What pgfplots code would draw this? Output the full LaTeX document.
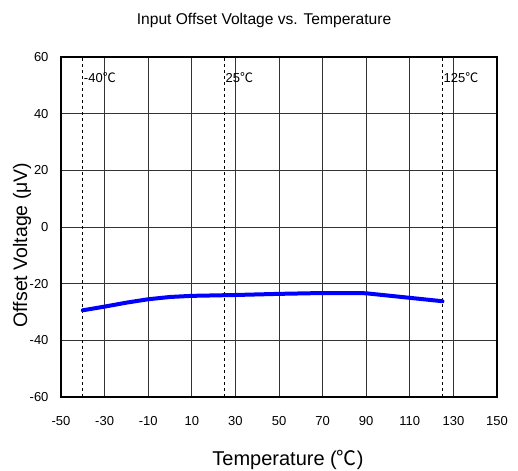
\documentclass[border=0pt]{standalone}
\usepackage{pgfplots}
\pgfplotsset{compat=1.18}
\usepackage{fontspec}
\setmainfont{Liberation Sans}
\newfontfamily\cjk{Noto Sans CJK SC}
\newcommand{\degC}{{\cjk ℃}}
\begin{document}
\begin{tikzpicture}
\begin{axis}[
  scale only axis,
  width=436pt, height=340pt,
  xmin=-50, xmax=150, ymin=-60, ymax=60,
  xtick={-50,-30,...,150},
  ytick={-60,-40,...,60},
  /pgf/number format/assume math mode=true,
  major tick length=0pt,
  grid=major,
  major grid style={black!80, line width=0.8pt},
  axis line style={black, line width=1.6pt},
  tick label style={font=\fontsize{13}{15}\selectfont},
  xticklabel style={yshift=-16pt},
  yticklabel style={xshift=-9pt},
  title={Input Offset Voltage vs. Temperature},
  title style={font=\fontsize{15.6}{18}\selectfont, at={(axis description cs:0.5,1)}, yshift=31pt, xshift=-15pt, anchor=center},
  xlabel={Temperature (\degC)},
  xlabel style={font=\fontsize{20}{23}\selectfont, at={(axis description cs:0.5,0)}, yshift=-63pt, xshift=9pt, anchor=center},
  ylabel={Offset Voltage (μV)},
  ylabel style={font=\fontsize{19.5}{23}\selectfont, at={(axis description cs:-0.0894,0.447)}, anchor=center},
  clip=false,
]
\addplot[black, dashed, line width=0.8pt] coordinates {(-40,-60) (-40,60)};
\addplot[black, dashed, line width=0.8pt] coordinates {(25,-60) (25,60)};
\addplot[black, dashed, line width=0.8pt] coordinates {(125,-60) (125,60)};
\addplot[color={rgb,255:red,0;green,0;blue,255}, line width=4pt, line join=round, line cap=round] coordinates {
(-40,-29.4) (-30,-28.1) (-20,-26.7) (-10,-25.5) (0,-24.7) (10,-24.3) (30,-24.0) (50,-23.6) (70,-23.3) (85,-23.3) (90,-23.4) (110,-25.0) (125,-26.2)
};
\node[anchor=west, inner sep=1pt, font=\fontsize{13}{15}\selectfont] at (axis cs:-40,52.6) {-40\degC};
\node[anchor=west, inner sep=1pt, font=\fontsize{13}{15}\selectfont] at (axis cs:25,52.6) {25\degC};
\node[anchor=west, inner sep=1pt, font=\fontsize{13}{15}\selectfont] at (axis cs:125,52.6) {125\degC};
\end{axis}
\pgfresetboundingbox
\useasboundingbox (-61pt,-73pt) rectangle (457pt,397pt);
\end{tikzpicture}
\end{document}
